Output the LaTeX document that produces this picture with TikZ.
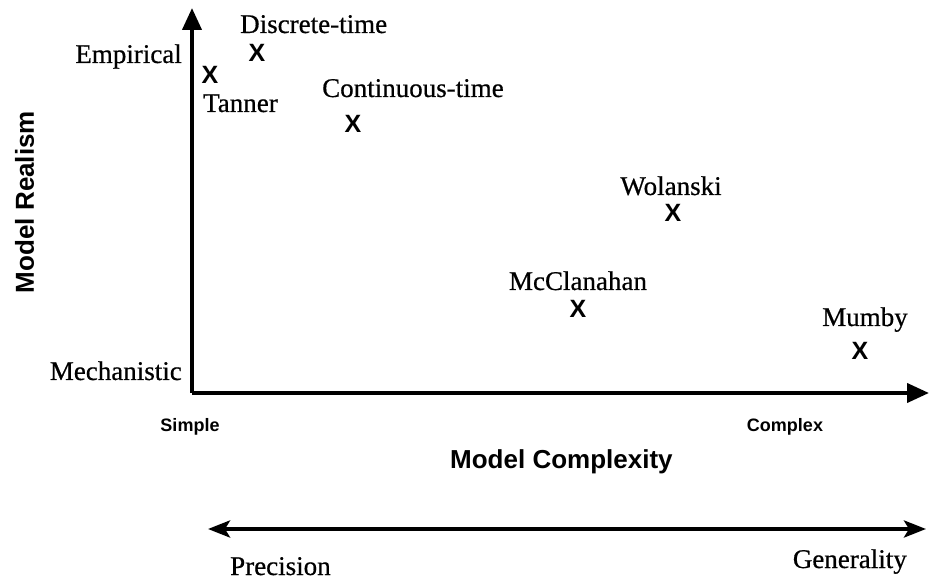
\documentclass[tikz,border=0pt]{standalone}
\usepackage{fontspec}
\setmainfont{Liberation Serif}[FakeBold=0.6]
\setsansfont{Liberation Sans}
\newfontfamily\heavyserif{Liberation Serif}[FakeBold=0.6]
\usetikzlibrary{arrows.meta}
\begin{document}
\begin{tikzpicture}[x=1pt,y=-1pt,
  lbl/.style={inner sep=0pt,font=\heavyserif\fontsize{27}{32}\selectfont},
  xmark/.style={inner sep=0pt,font=\sffamily\bfseries\fontsize{25}{30}\selectfont},
  axtitle/.style={inner sep=0pt,font=\sffamily\bfseries\fontsize{26}{30}\selectfont},
  axend/.style={inner sep=0pt,font=\sffamily\bfseries\fontsize{18}{22}\selectfont},
  axis/.style={line width=4pt,-{Triangle[length=22pt,width=19pt]}},
  span/.style={line width=4pt,{Stealth[length=22pt,width=17pt,inset=5pt]}-{Stealth[length=22pt,width=17pt,inset=5pt]}}]
\useasboundingbox (0,0) rectangle (930,585);
\fill[white] (0,0) rectangle (930,585);
% axes
\coordinate (O) at (192,393);
\coordinate (ytop) at (192,8);
\coordinate (xend) at (929,393);
\draw[axis] (O) -- (ytop);
\draw[axis] (O) -- (xend);
\coordinate (pl) at (208,529);
\coordinate (pr) at (926,529);
\draw[span] (pl) -- (pr);
% axis labels
\node[lbl,anchor=base east] (emp) at (182,63) {Empirical};
\node[lbl,anchor=base east] (mech) at (182,380) {Mechanistic};
\node[axtitle,rotate=90,anchor=base] (realism) at (34,202) {Model Realism};
\node[axend] (simple) at (190,427) {Simple};
\node[axend] (complex) at (785,427) {Complex};
\node[axtitle,anchor=base west] (cplx) at (450,468) {Model Complexity};
\node[lbl,anchor=base west] (prec) at (230,575) {Precision};
\node[lbl,anchor=base east] (gen) at (907,568) {Generality};
% models
\node[lbl,anchor=base west] (disc) at (240,33) {Discrete-time};
\node[xmark] (xdisc) at (257,53) {X};
\node[xmark] (xtan) at (210,75) {X};
\node[lbl,anchor=base west] (tan) at (203,112) {Tanner};
\node[lbl,anchor=base west] (cont) at (322,97) {Continuous-time};
\node[xmark] (xcont) at (353,124) {X};
\node[lbl,anchor=base] (wol) at (671,195) {Wolanski};
\node[xmark] (xwol) at (673,213) {X};
\node[lbl,anchor=base] (mcc) at (578,290) {McClanahan};
\node[xmark] (xmcc) at (578,309) {X};
\node[lbl,anchor=base] (mum) at (865,326) {Mumby};
\node[xmark] (xmum) at (860,351) {X};
\end{tikzpicture}
\end{document}
